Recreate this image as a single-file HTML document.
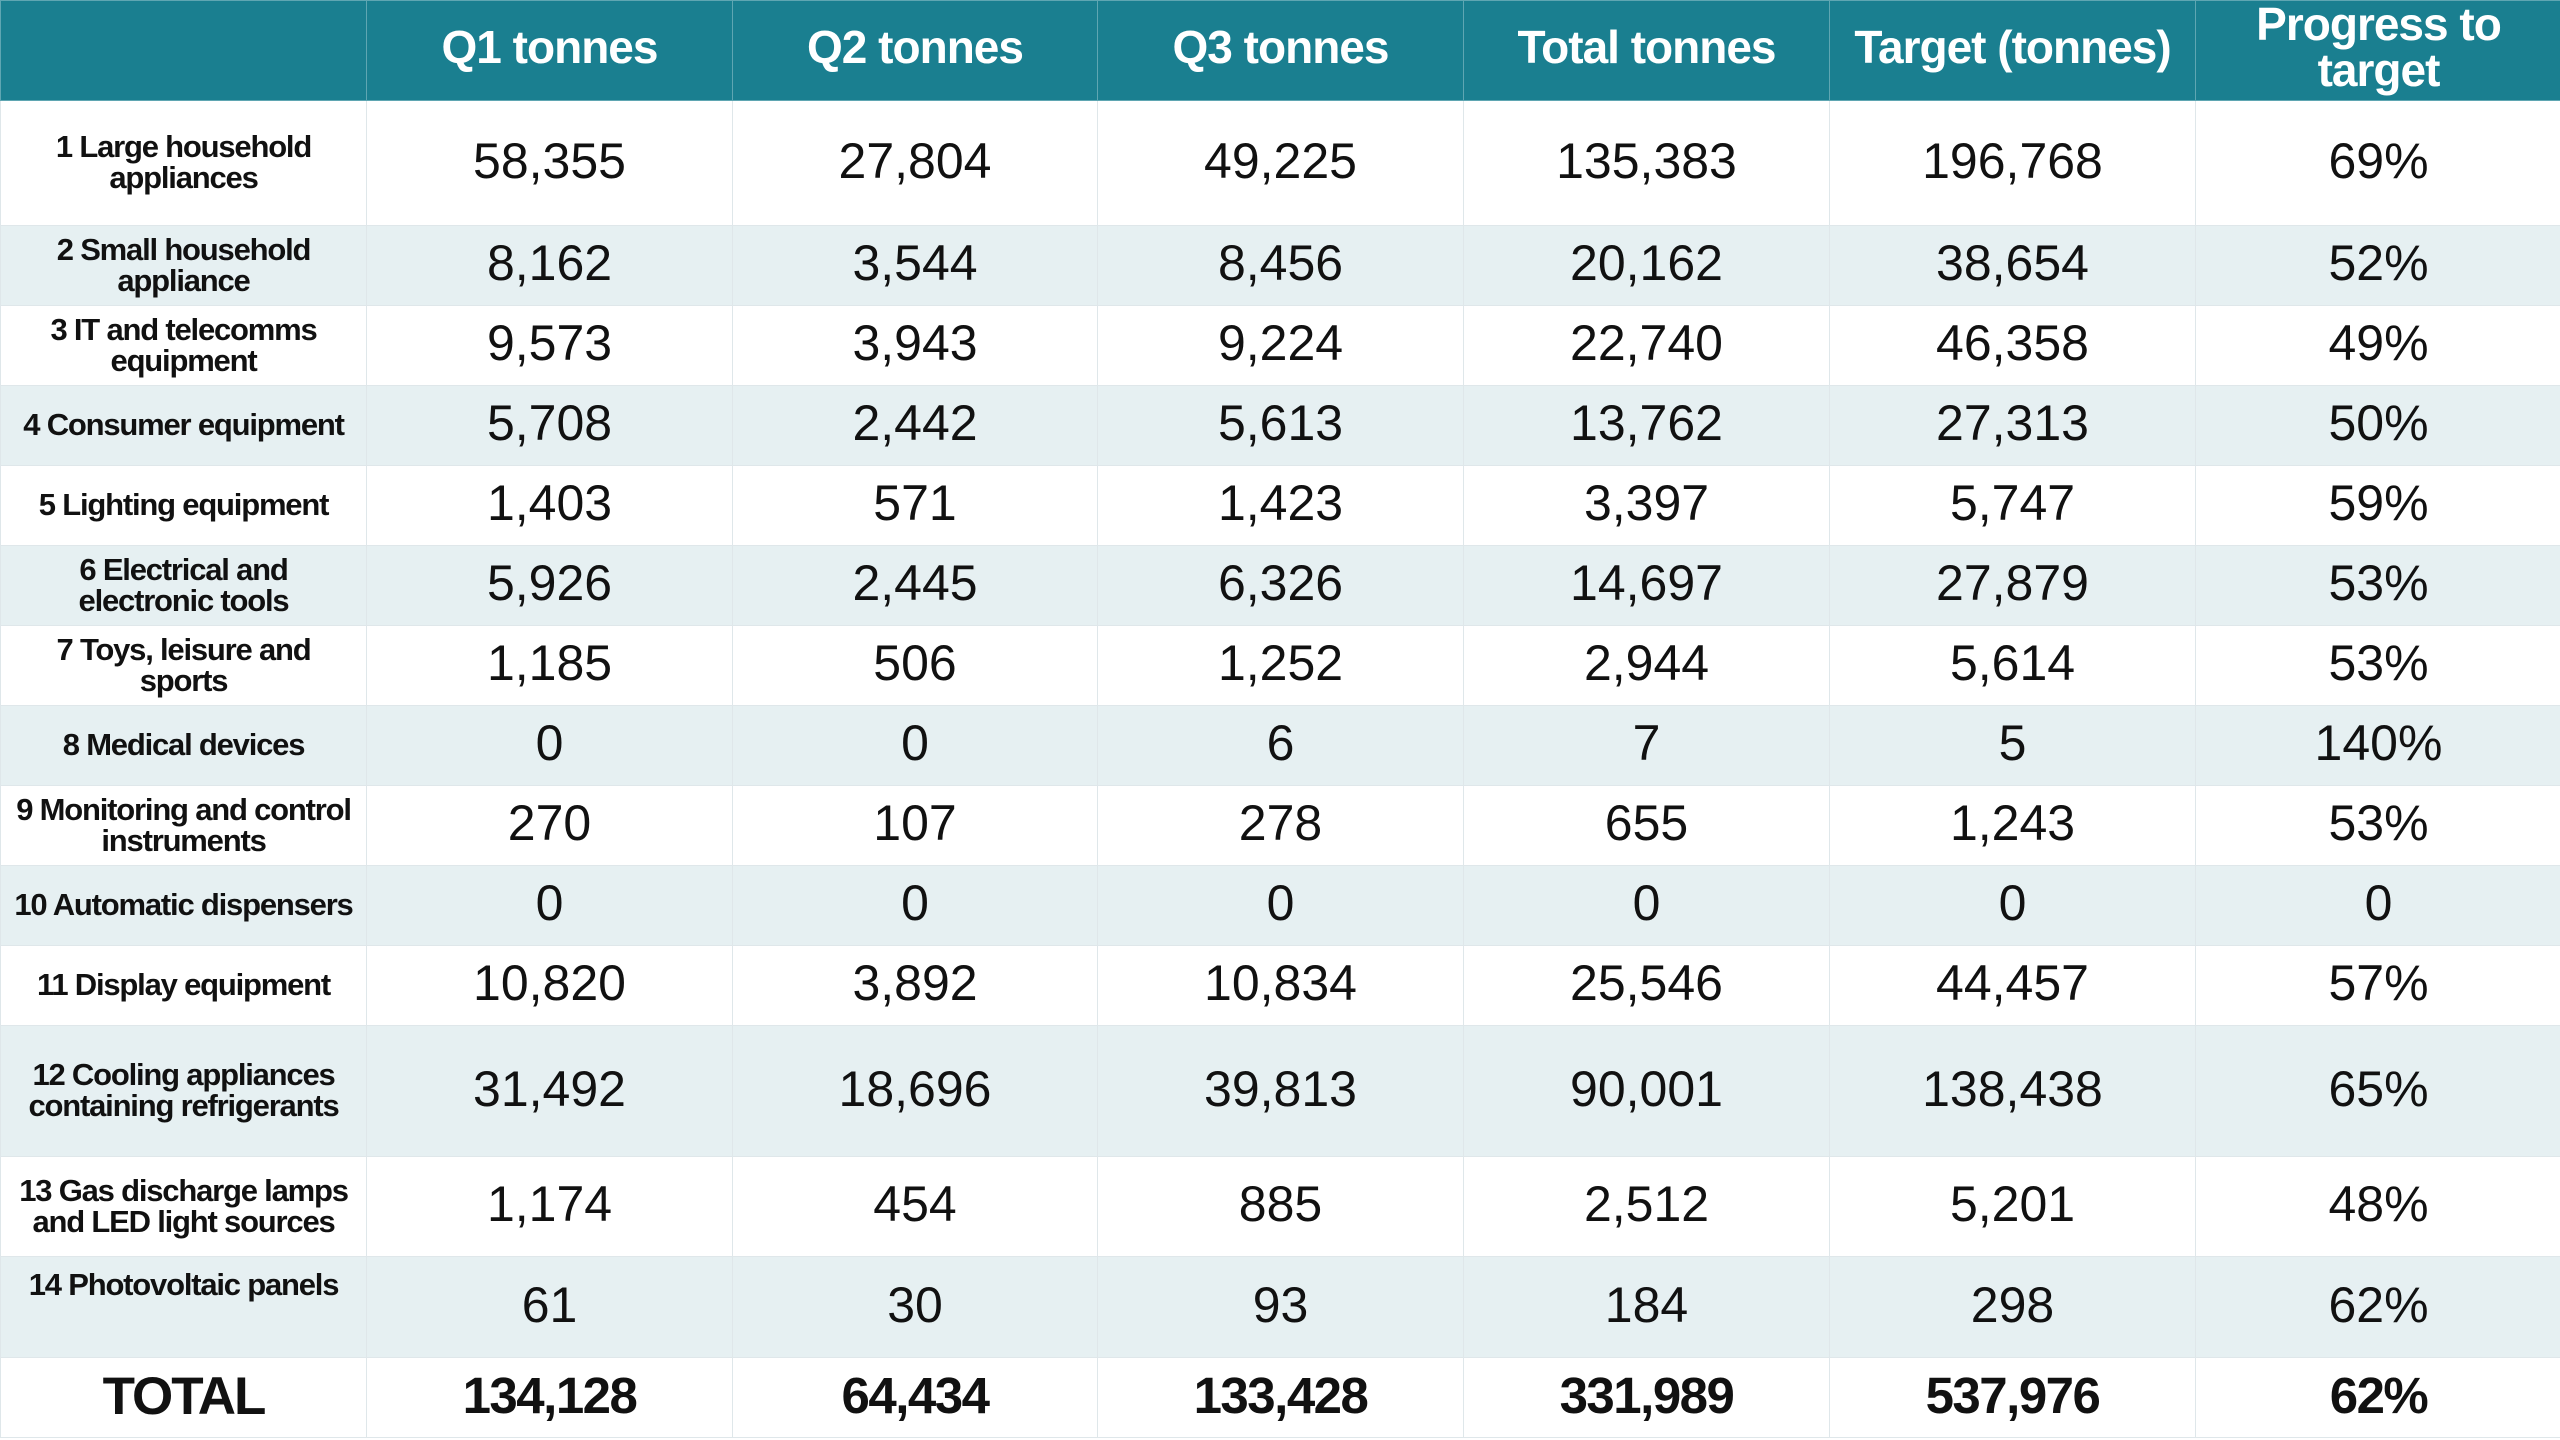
<!DOCTYPE html>
<html><head><meta charset="utf-8"><style>
html,body{margin:0;padding:0;background:#fff;}
body{width:2560px;height:1440px;position:relative;overflow:hidden;font-family:"Liberation Sans",Arial,sans-serif;}
table{position:absolute;left:0;top:0;border-collapse:collapse;table-layout:fixed;width:2561px;}
td,th{border:1px solid #dfe7ea;text-align:center;vertical-align:middle;padding:0;overflow:hidden;}
th{background:#1a7f90;color:#fff;font-weight:bold;font-size:46px;letter-spacing:-1px;line-height:44px;border-color:#5fa6b2;padding-bottom:8px;}
td{font-size:50px;color:#111;padding-bottom:5px;}
td.l{font-size:31px;font-weight:bold;letter-spacing:-1.2px;line-height:31px;padding-bottom:2px;}
tr.a td{background:#e6f0f2;}
tr.t td{font-weight:bold;font-size:51px;letter-spacing:-1.5px;}
tr.t td.l{font-size:53px;line-height:52px;letter-spacing:-2px;}
</style></head><body>
<table>
<colgroup><col style="width:366px"><col style="width:366px"><col style="width:365px"><col style="width:366px"><col style="width:366px"><col style="width:366px"><col style="width:366px"></colgroup>
<tr style="height:100px"><th></th><th>Q1 tonnes</th><th>Q2 tonnes</th><th>Q3 tonnes</th><th>Total tonnes</th><th>Target (tonnes)</th><th style="vertical-align:top;line-height:46px;padding-bottom:0">Progress to<br>target</th></tr>
<tr style="height:125px"><td class="l">1 Large household<br>appliances</td><td>58,355</td><td>27,804</td><td>49,225</td><td>135,383</td><td>196,768</td><td>69%</td></tr>
<tr class="a" style="height:80px"><td class="l">2 Small household<br>appliance</td><td>8,162</td><td>3,544</td><td>8,456</td><td>20,162</td><td>38,654</td><td>52%</td></tr>
<tr style="height:80px"><td class="l">3 IT and telecomms<br>equipment</td><td>9,573</td><td>3,943</td><td>9,224</td><td>22,740</td><td>46,358</td><td>49%</td></tr>
<tr class="a" style="height:80px"><td class="l">4 Consumer equipment</td><td>5,708</td><td>2,442</td><td>5,613</td><td>13,762</td><td>27,313</td><td>50%</td></tr>
<tr style="height:80px"><td class="l">5 Lighting equipment</td><td>1,403</td><td>571</td><td>1,423</td><td>3,397</td><td>5,747</td><td>59%</td></tr>
<tr class="a" style="height:80px"><td class="l">6 Electrical and<br>electronic tools</td><td>5,926</td><td>2,445</td><td>6,326</td><td>14,697</td><td>27,879</td><td>53%</td></tr>
<tr style="height:80px"><td class="l">7 Toys, leisure and<br>sports</td><td>1,185</td><td>506</td><td>1,252</td><td>2,944</td><td>5,614</td><td>53%</td></tr>
<tr class="a" style="height:80px"><td class="l">8 Medical devices</td><td>0</td><td>0</td><td>6</td><td>7</td><td>5</td><td>140%</td></tr>
<tr style="height:80px"><td class="l">9 Monitoring and control<br>instruments</td><td>270</td><td>107</td><td>278</td><td>655</td><td>1,243</td><td>53%</td></tr>
<tr class="a" style="height:80px"><td class="l">10 Automatic dispensers</td><td>0</td><td>0</td><td>0</td><td>0</td><td>0</td><td>0</td></tr>
<tr style="height:80px"><td class="l">11 Display equipment</td><td>10,820</td><td>3,892</td><td>10,834</td><td>25,546</td><td>44,457</td><td>57%</td></tr>
<tr class="a" style="height:131px"><td class="l">12 Cooling appliances<br>containing refrigerants</td><td>31,492</td><td>18,696</td><td>39,813</td><td>90,001</td><td>138,438</td><td>65%</td></tr>
<tr style="height:100px"><td class="l">13 Gas discharge lamps<br>and LED light sources</td><td>1,174</td><td>454</td><td>885</td><td>2,512</td><td>5,201</td><td>48%</td></tr>
<tr class="a" style="height:101px"><td class="l" style="vertical-align:top;padding-top:12px">14 Photovoltaic panels</td><td>61</td><td>30</td><td>93</td><td>184</td><td>298</td><td>62%</td></tr>
<tr class="t" style="height:80px"><td class="l">TOTAL</td><td>134,128</td><td>64,434</td><td>133,428</td><td>331,989</td><td>537,976</td><td>62%</td></tr>
</table>
</body></html>
